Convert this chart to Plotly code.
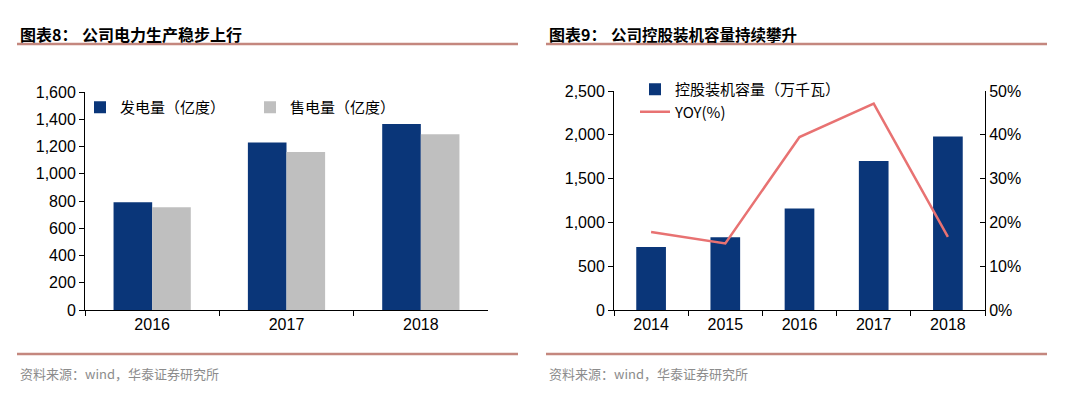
import plotly.graph_objects as go

# ---- data: left chart ----
years_left = ["2016", "2017", "2018"]
generation = [790, 1230, 1365]      # 发电量（亿度）
sales = [755, 1160, 1290]           # 售电量（亿度）
left_ticks = [0, 200, 400, 600, 800, 1000, 1200, 1400, 1600]

# ---- data: right chart ----
years_right = ["2014", "2015", "2016", "2017", "2018"]
capacity = [720, 830, 1160, 1700, 1980]     # 控股装机容量（万千瓦）
yoy = [0.178, 0.152, 0.395, 0.471, 0.167]   # YOY(%)

W, H = 1080, 400
OFF = 8  # default body margin of the html page
NAVY = "#0a3679"
GREY = "#bfbfbf"
RED = "#e87272"
RULE = "#c4877e"
TICKFONT = dict(family="Liberation Sans, Arial", size=16, color="#000")
CJK = "Noto Sans CJK SC"


def px(x):
    return (x - OFF) / W


def py(y):
    return 1 - (y - OFF) / H


fig = go.Figure()

fig.add_trace(go.Bar(x=years_left, y=generation, name="发电量（亿度）",
                     marker=dict(color=NAVY, line=dict(width=0)),
                     xaxis="x", yaxis="y", legend="legend"))
fig.add_trace(go.Bar(x=years_left, y=sales, name="售电量（亿度）",
                     marker=dict(color=GREY, line=dict(width=0)),
                     xaxis="x", yaxis="y", legend="legend"))

fig.add_trace(go.Bar(x=years_right, y=capacity, name="控股装机容量（万千瓦）",
                     marker=dict(color=NAVY, line=dict(width=0)),
                     xaxis="x2", yaxis="y2", legend="legend2", width=0.4))
fig.add_trace(go.Scatter(x=years_right, y=yoy, name="YOY(%)", mode="lines",
                         line=dict(color=RED, width=2.5),
                         xaxis="x2", yaxis="y3", legend="legend2"))

axis_common = dict(showgrid=False, zeroline=False, showline=True,
                   linecolor="#000", linewidth=1, tickfont=TICKFONT,
                   ticks="outside", ticklen=5, tickcolor="#000",
                   automargin=False)

fig.update_layout(
    width=W, height=H,
    margin=dict(l=0, r=0, t=0, b=0),
    paper_bgcolor="white", plot_bgcolor="white",
    barmode="group", bargap=0.425, bargroupgap=0,
    showlegend=True,
    xaxis=dict(axis_common, domain=[px(85), px(488)], anchor="y",
               tickson="boundaries", type="category"),
    yaxis=dict(axis_common, domain=[py(310), py(92)], anchor="x",
               range=[0, 1600], tickvals=left_ticks, tickformat=",d"),
    xaxis2=dict(axis_common, domain=[px(614), px(985)], anchor="y2",
                tickson="boundaries", type="category"),
    yaxis2=dict(axis_common, domain=[py(310), py(91)], anchor="x2",
                range=[0, 2500], dtick=500, tickformat=",d"),
    yaxis3=dict(axis_common, overlaying="y2", side="right", anchor="x2",
                range=[0, 0.5], dtick=0.1, tickformat=".0%", ticks="inside"),
    legend=dict(x=px(80), y=py(91), xanchor="left", yanchor="top",
                orientation="h", font=dict(family=CJK, size=15, color="#000"),
                bgcolor="rgba(0,0,0,0)", entrywidth=125, entrywidthmode="pixels",
                itemsizing="constant", tracegroupgap=0),
    legend2=dict(x=px(635), y=py(73), xanchor="left", yanchor="top",
                 orientation="v", font=dict(family=CJK, size=15, color="#000"),
                 bgcolor="rgba(0,0,0,0)", tracegroupgap=0),
)

# title rules and footer rules
for x0, x1 in [(17, 518), (546, 1047)]:
    for y in (44, 354):
        fig.add_shape(type="line", xref="paper", yref="paper",
                      x0=px(x0), x1=px(x1), y0=py(y), y1=py(y),
                      line=dict(color=RULE, width=2.5))

titles = [(18, "图表8：", 16), (80, "公司电力生产稳步上行", 16),
          (547, "图表9：", 16), (609, "公司控股装机容量持续攀升", 15.5)]
for x, t, s in titles:
    fig.add_annotation(text="<b>" + t + "</b>", xref="paper", yref="paper",
                       x=px(x), y=py(34), xanchor="left", yanchor="middle",
                       showarrow=False, font=dict(family=CJK, size=s, color="#000"))

for x in [18, 547]:
    fig.add_annotation(text="资料来源：wind，华泰证券研究所", xref="paper", yref="paper",
                       x=px(x), y=py(373), xanchor="left", yanchor="middle",
                       showarrow=False, font=dict(family=CJK, size=13, color="#8c8c8c"))

fig.write_html("out.html")
